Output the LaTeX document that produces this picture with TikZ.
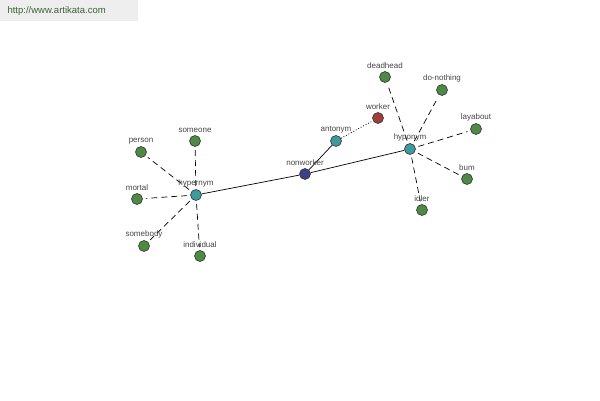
\documentclass[tikz,border=0pt]{standalone}
\usepackage{fontspec}
\setmainfont{Liberation Sans}
\usetikzlibrary{positioning}
\definecolor{leafgreen}{HTML}{4E8A45}
\definecolor{relteal}{HTML}{3F9A9C}
\definecolor{rootblue}{HTML}{3C3F8C}
\definecolor{oppred}{HTML}{A13D3D}
\definecolor{labelgray}{HTML}{444444}
\definecolor{bannerbg}{HTML}{EEEEEE}
\definecolor{bannertext}{HTML}{3F5F3A}

\tikzset{
    word/.style={circle, draw=black!80, line width=0.6pt, minimum size=11pt, inner sep=0pt},
    leaf/.style={word, fill=leafgreen},
    rel/.style={word, fill=relteal},
    wlabel/.style={font=\fontsize{8}{9}\selectfont, text=labelgray, inner sep=0pt},
    link/.style={dash pattern=on 6pt off 4pt, line width=0.7pt, shorten >=3pt, shorten <=3pt},
}

\begin{document}
\begin{tikzpicture}[x=1pt, y=-1pt]
    \useasboundingbox (0,0) rectangle (600,400);
    % Site banner
    \fill[bannerbg] (0,0) rectangle (138,21);
    \node[font=\fontsize{9.5}{11}\selectfont, text=bannertext, anchor=west] (site) at (4,11) {http://www.artikata.com};
    % Central word
    \node[word, fill=rootblue] (nonworker) at (305,174) {};
    % Relation nodes
    \node[rel] (hypernym) at (196,195) {};
    \node[rel] (hyponym) at (410,149) {};
    \node[rel] (antonym) at (336,141) {};
    \node[word, fill=oppred] (worker) at (378,118) {};
    % Hypernym leaves
    \node[leaf] (person) at (141,152) {};
    \node[leaf] (someone) at (195,141) {};
    \node[leaf] (mortal) at (137,199) {};
    \node[leaf] (somebody) at (144,246) {};
    \node[leaf] (individual) at (200,256) {};
    % Hyponym leaves
    \node[leaf] (deadhead) at (385,77) {};
    \node[leaf] (donothing) at (442,90) {};
    \node[leaf] (layabout) at (476,129) {};
    \node[leaf] (bum) at (467,179) {};
    \node[leaf] (idler) at (422,210) {};
    % Connectors
    \draw[line width=0.7pt] (hypernym) -- (nonworker);
    \draw[line width=0.7pt] (nonworker) -- (hyponym);
    \draw[line width=0.7pt] (nonworker) -- (antonym);
    \draw[dotted, line width=0.8pt] (antonym) -- (worker);
    \foreach \leafname in {person, someone, mortal, somebody, individual}
        \draw[link] (hypernym) -- (\leafname);
    \foreach \leafname in {deadhead, donothing, layabout, bum, idler}
        \draw[link] (hyponym) -- (\leafname);
    % Labels
    \node[wlabel, above=2pt of nonworker] {nonworker};
    \node[wlabel, above=2pt of hypernym] {hypernym};
    \node[wlabel, above=2pt of hyponym] {hyponym};
    \node[wlabel, above=2pt of antonym] {antonym};
    \node[wlabel, above=2pt of worker] {worker};
    \node[wlabel, above=2pt of person] {person};
    \node[wlabel, above=2pt of someone] {someone};
    \node[wlabel, above=2pt of mortal] {mortal};
    \node[wlabel, above=2pt of somebody] {somebody};
    \node[wlabel, above=2pt of individual] {individual};
    \node[wlabel, above=2pt of deadhead] {deadhead};
    \node[wlabel, above=2pt of donothing] {do-nothing};
    \node[wlabel, above=2pt of layabout] {layabout};
    \node[wlabel, above=2pt of bum] {bum};
    \node[wlabel, above=2pt of idler] {idler};
\end{tikzpicture}
\end{document}
